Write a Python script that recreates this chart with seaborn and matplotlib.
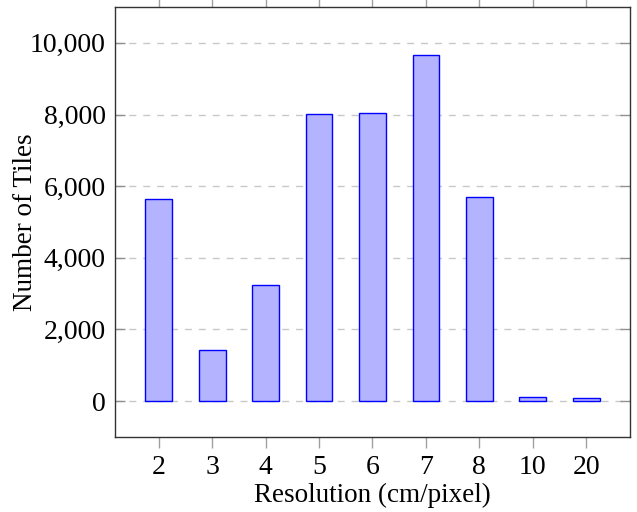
import matplotlib
matplotlib.use("Agg")
import matplotlib.pyplot as plt
import matplotlib.ticker as mticker
import seaborn as sns
import pandas as pd

# data
resolutions = ["2", "3", "4", "5", "6", "7", "8", "10", "20"]
tiles = [5630, 1425, 3255, 8020, 8055, 9670, 5700, 110, 75]

df = pd.DataFrame({"res": resolutions, "tiles": tiles})

sns.set_style("white")
plt.rcParams["font.family"] = ["Liberation Serif", "DejaVu Serif"]
plt.rcParams["text.color"] = "black"
plt.rcParams["axes.labelcolor"] = "black"
plt.rcParams["xtick.labelcolor"] = "black"
plt.rcParams["ytick.labelcolor"] = "black"

fig = plt.figure(figsize=(6.37, 5.12), dpi=100)
ax = fig.add_axes([0.1805, 0.1465, 0.8085, 0.8398])

sns.barplot(data=df, x="res", y="tiles", order=resolutions, width=0.5,
            color="#b3b3ff", saturation=1, edgecolor="blue", linewidth=1, ax=ax)

ax.set_xlim(-0.82, 8.82)
ax.set_ylim(-1000, 11000)
ax.set_yticks([0, 2000, 4000, 6000, 8000, 10000])
ax.yaxis.set_major_formatter(mticker.FuncFormatter(lambda v, p: f"{int(v):,}"))

ax.grid(axis="y", color="#c8c8c8", linestyle=(0, (5, 5)), linewidth=1)
ax.set_axisbelow(True)

ax.tick_params(axis="x", direction="out", length=8, width=1, color="#a0a0a0",
               top=True, bottom=True, labelsize=20, pad=5)
ax.tick_params(axis="y", direction="in", length=7, width=1, color="#909090",
               left=True, right=True, labelsize=20, pad=6.5)

for s in ax.spines.values():
    s.set_color("#333333")
    s.set_linewidth(1)

ax.set_xlabel("Resolution (cm/pixel)", fontsize=19.5, labelpad=2)
ax.set_ylabel("Number of Tiles", fontsize=19.5, labelpad=-6)

fig.savefig("out.png", dpi=100)
